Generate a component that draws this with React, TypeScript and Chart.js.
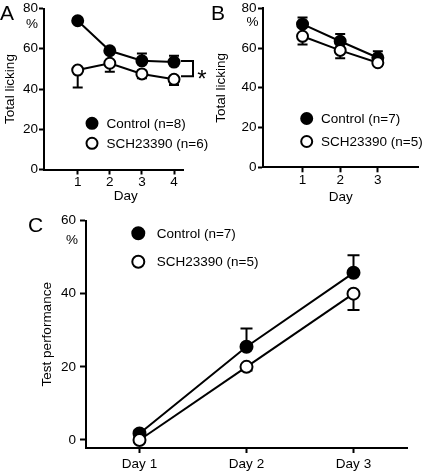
import React, { useEffect, useRef } from 'react';
import { Chart, registerables } from 'chart.js';

Chart.register(...registerables);

const FONT = '"Liberation Sans", Arial, Helvetica, sans-serif';

// ---- Panel A: Total licking over 4 days ----
const daysA = [1, 2, 3, 4];
const aControl = [73.9, 59.0, 54.0, 53.4];
const aControlErr = [1.2, 1.2, 3.7, 3.1];
const aSch = [49.4, 52.8, 47.5, 44.8];
const aSchErr = [8.6, 4.2, 2.2, 2.8];
const labelsA = ['Control (n=8)', 'SCH23390 (n=6)'];

// ---- Panel B: Total licking over 3 days ----
const daysB = [1, 2, 3];
const bControl = [72.0, 63.4, 55.1];
const bControlErr = [3.4, 3.6, 3.3];
const bSch = [65.9, 58.8, 52.6];
const bSchErr = [4.1, 4.0, 1.5];
const labelsB = ['Control (n=7)', 'SCH23390 (n=5)'];

// ---- Panel C: Test performance ----
const daysC = ['Day 1', 'Day 2', 'Day 3'];
const cControl = [1.8, 25.5, 45.7];
const cControlErr = [0.8, 5.0, 4.8];
const cSch = [0, 20.0, 40.0];
const cSchErr = [0.5, 1.0, 4.5];
const labelsC = ['Control (n=7)', 'SCH23390 (n=5)'];

const yTicksLicking = [0, 20, 40, 60, 80];
const yTicksTest = [0, 20, 40, 60];

const tickFont = { family: FONT, size: 13.5, lineHeight: 1 };
const titleFont = { family: FONT, size: 13.5 };

function ds(label: string, xs: any[] | null, ys: number[], errs: number[], filled: boolean, dir: string, r: number) {
  return {
    label,
    data: xs ? xs.map((x, i) => ({ x, y: ys[i] })) : ys,
    errors: errs,
    errDir: dir,
    borderColor: '#000',
    borderWidth: 2,
    backgroundColor: filled ? '#000' : '#fff',
    pointRadius: r,
    pointHoverRadius: r,
    pointBackgroundColor: filled ? '#000' : '#fff',
    pointBorderColor: '#000',
    pointBorderWidth: 2,
    fill: false,
    tension: 0,
    clip: false,
    order: filled ? 1 : 0,
  };
}

const border = { display: true, color: '#000', width: 2 };
const grid = (len: number) => ({
  display: true,
  drawOnChartArea: false,
  drawTicks: true,
  tickLength: len,
  tickWidth: 2,
  tickColor: '#000',
});

function yAxis(min: number, max: number, ticks: number[], width: number, title: string, titlePad: number, tickLen: number, tickPad: number) {
  return {
    type: 'linear',
    min,
    max,
    afterBuildTicks: (s: any) => { s.ticks = ticks.map((v) => ({ value: v })); },
    afterFit: (s: any) => { s.width = width; },
    border,
    grid: grid(tickLen),
    ticks: { color: '#000', font: tickFont, padding: tickPad },
    title: { display: true, text: title, color: '#000', font: titleFont, padding: { top: titlePad, bottom: 0 } },
  };
}

function xLinear(min: number, max: number, ticks: number[], height: number, title: string | null, titlePadBottom: number) {
  return {
    type: 'linear',
    min,
    max,
    afterBuildTicks: (s: any) => { s.ticks = ticks.map((v) => ({ value: v })); },
    afterFit: (s: any) => { s.height = height; },
    border,
    grid: grid(5),
    ticks: { color: '#000', font: tickFont, padding: 1 },
    title: title
      ? { display: true, text: title, color: '#000', font: titleFont, padding: { top: 0, bottom: titlePadBottom } }
      : { display: false },
  };
}

function errorBars(cap: number) {
  return {
    id: 'errBars',
    beforeDatasetsDraw(chart: any) {
      const { ctx } = chart;
      const yScale = chart.scales.y;
      ctx.save();
      ctx.strokeStyle = '#000';
      ctx.lineWidth = 2;
      chart.data.datasets.forEach((d: any, i: number) => {
        if (!d.errors) return;
        const meta = chart.getDatasetMeta(i);
        meta.data.forEach((pt: any, j: number) => {
          const raw = d.data[j];
          const v = typeof raw === 'number' ? raw : raw.y;
          const e = d.errors[j];
          const ends = d.errDir === 'up' ? [v + e] : d.errDir === 'down' ? [v - e] : [v + e, v - e];
          ends.forEach((end: number) => {
            const y1 = yScale.getPixelForValue(end);
            ctx.beginPath();
            ctx.moveTo(pt.x, pt.y);
            ctx.lineTo(pt.x, y1);
            ctx.moveTo(pt.x - cap, y1);
            ctx.lineTo(pt.x + cap, y1);
            ctx.stroke();
          });
        });
      });
      ctx.restore();
    },
  };
}

function decor(cfg: any) {
  return {
    id: 'decor',
    afterDraw(chart: any) {
      const { ctx } = chart;
      ctx.save();
      ctx.fillStyle = '#000';
      ctx.strokeStyle = '#000';
      // panel letter
      ctx.font = `21px ${FONT}`;
      ctx.textAlign = 'left';
      ctx.textBaseline = 'alphabetic';
      ctx.fillText(cfg.panel, cfg.panelX, cfg.panelY);
      // percent unit
      ctx.font = `13.5px ${FONT}`;
      ctx.textAlign = 'center';
      ctx.textBaseline = 'middle';
      ctx.fillText('%', cfg.pctX, cfg.pctY);
      // legend
      ctx.textAlign = 'left';
      chart.data.datasets.forEach((d: any, i: number) => {
        const y = cfg.legY + i * cfg.legGap;
        ctx.beginPath();
        ctx.arc(cfg.legX, y, cfg.r, 0, Math.PI * 2);
        ctx.fillStyle = d.pointBackgroundColor;
        ctx.fill();
        ctx.lineWidth = 2;
        ctx.strokeStyle = '#000';
        ctx.stroke();
        ctx.fillStyle = '#000';
        ctx.fillText(d.label, cfg.legTextX, y + 0.5);
      });
      const xs = chart.scales.x;
      const ys = chart.scales.y;
      if (cfg.xTitle) {
        const t = xs.ticks;
        const cx = (xs.getPixelForValue(t[0].value) + xs.getPixelForValue(t[t.length - 1].value)) / 2;
        ctx.textAlign = 'center';
        ctx.textBaseline = 'middle';
        ctx.fillText(cfg.xTitle, cx, chart.chartArea.bottom + 27);
      }
      if (cfg.bracket) {
        const d0 = chart.data.datasets[0].data;
        const d1 = chart.data.datasets[1].data;
        const last = d0.length - 1;
        const px = xs.getPixelForValue(d0[last].x);
        const yTop = ys.getPixelForValue(d0[last].y) - 1;
        const yBot = ys.getPixelForValue(d1[last].y) - 3;
        ctx.lineWidth = 2;
        ctx.beginPath();
        ctx.moveTo(px + 7, yTop);
        ctx.lineTo(px + 19, yTop);
        ctx.lineTo(px + 19, yBot);
        ctx.lineTo(px + 7, yBot);
        ctx.stroke();
        ctx.font = `24px ${FONT}`;
        ctx.textAlign = 'center';
        ctx.textBaseline = 'alphabetic';
        ctx.fillText('*', px + 28, (yTop + yBot) / 2 + 18);
      }
      ctx.restore();
    },
  };
}

const baseOpts = {
  responsive: false,
  maintainAspectRatio: false,
  animation: false,
  devicePixelRatio: 1,
  events: [],
  plugins: { legend: { display: false }, tooltip: { enabled: false } },
};

const makeA = () => ({
  type: 'line',
  data: {
    datasets: [
      ds(labelsA[0], daysA, aControl, aControlErr, true, 'up', 5.5),
      ds(labelsA[1], daysA, aSch, aSchErr, false, 'down', 5.5),
    ],
  },
  options: {
    ...baseOpts,
    layout: { padding: { left: 0, top: 8.5, right: 30, bottom: 0 } },
    scales: {
      x: xLinear(-0.05, 4.28, daysA, 38.5, null, 0),
      y: yAxis(0, 80, yTicksLicking, 44, 'Total licking', 2, 5, 1),
    },
  },
  plugins: [
    errorBars(5),
    decor({ panel: 'A', panelX: 0, panelY: 20, pctX: 32, pctY: 24, legX: 92, legY: 123.3, legGap: 20, legTextX: 106.5, r: 5.5, xTitle: 'Day', bracket: true }),
  ],
});

const makeB = () => ({
  type: 'line',
  data: {
    datasets: [
      ds(labelsB[0], daysB, bControl, bControlErr, true, 'up', 5.5),
      ds(labelsB[1], daysB, bSch, bSchErr, false, 'down', 5.5),
    ],
  },
  options: {
    ...baseOpts,
    layout: { padding: { left: 0, top: 6.7, right: 1, bottom: 0 } },
    scales: {
      x: xLinear(-0.05, 4.08, daysB, 40.7, 'Day', 3),
      y: yAxis(0, 80, yTicksLicking, 58, 'Total licking', 8, 5, 1.5),
    },
  },
  plugins: [
    errorBars(5),
    decor({ panel: 'B', panelX: 6, panelY: 20, pctX: 47.5, pctY: 22, legX: 101.7, legY: 118.5, legGap: 23, legTextX: 116, r: 5.5 }),
  ],
});

const makeC = () => ({
  type: 'line',
  data: {
    labels: daysC,
    datasets: [
      ds(labelsC[0], null, cControl, cControlErr, true, 'up', 6),
      ds(labelsC[1], null, cSch, cSchErr, false, 'down', 6),
    ],
  },
  options: {
    ...baseOpts,
    layout: { padding: { left: 0, top: 12.5, right: 19, bottom: 0 } },
    scales: {
      x: {
        type: 'category',
        offset: true,
        afterFit: (s: any) => { s.height = 25; },
        border,
        grid: { ...grid(5), offset: false },
        ticks: { color: '#000', font: tickFont, padding: 5 },
      },
      y: yAxis(-2.19, 60, yTicksTest, 86, 'Test performance', 39, 6, 4),
    },
  },
  plugins: [
    errorBars(6),
    decor({ panel: 'C', panelX: 28, panelY: 23.5, pctX: 72, pctY: 32, legX: 138.3, legY: 25.3, legGap: 28.4, legTextX: 156.7, r: 6 }),
  ],
});

function Panel({ make, left, top, width, height }: any) {
  const ref = useRef<HTMLCanvasElement>(null);
  useEffect(() => {
    const chart = new Chart(ref.current as HTMLCanvasElement, make() as any);
    return () => chart.destroy();
  }, []);
  return (
    <canvas
      ref={ref}
      width={width}
      height={height}
      style={{ position: 'absolute', left, top, width, height, display: 'block' }}
    />
  );
}

export default function App() {
  return (
    <div style={{ position: 'absolute', left: 0, top: 0, width: 426, height: 473, background: '#fff', overflow: 'hidden' }}>
      <Panel make={makeA} left={0} top={0} width={213} height={208} />
      <Panel make={makeB} left={205} top={0} width={221} height={208} />
      <Panel make={makeC} left={0} top={208} width={426} height={265} />
    </div>
  );
}
